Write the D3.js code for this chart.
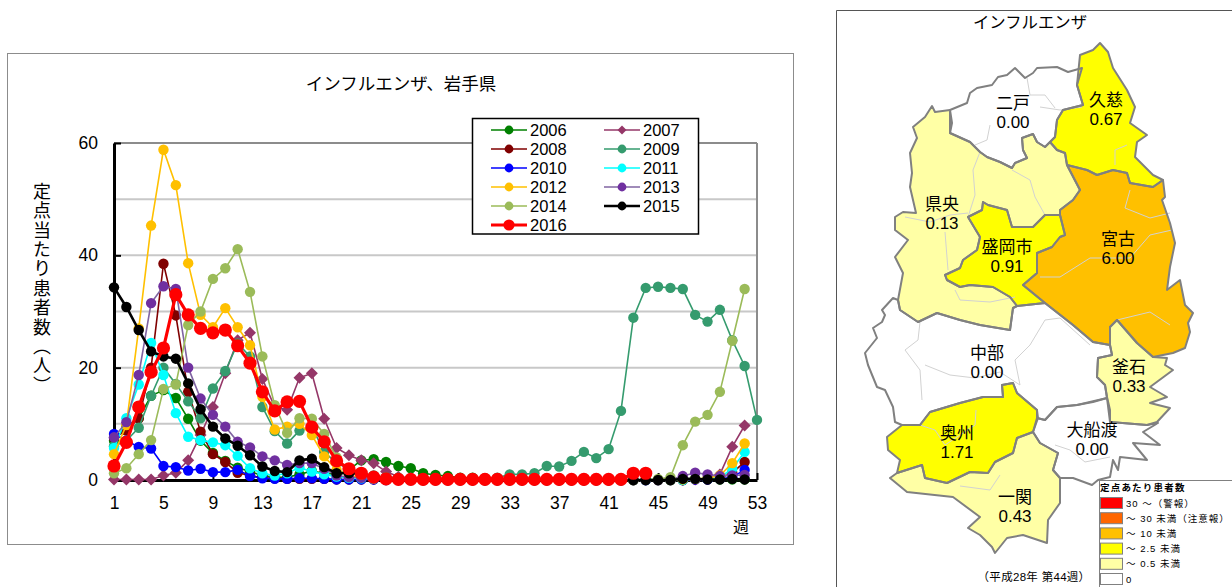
<!DOCTYPE html>
<html lang="ja"><head><meta charset="utf-8">
<script src="https://cdn.jsdelivr.net/npm/d3@7/dist/d3.min.js"></script>
<style>
html,body{margin:0;padding:0;background:#fff;overflow:hidden}
svg{display:block}
text{font-family:"Liberation Sans","Noto Sans CJK JP",sans-serif;fill:#000}
</style></head><body><svg id="c" width="1232" height="587"></svg>
<script>
const years=["2006","2007","2008","2009","2010","2011","2012","2013","2014","2015","2016"];
const s2006=[7,9.5,11,15,16,14.6,10.9,7,4.8,3.4, 2.2,1.5,.8,.5,.5,1,1.6,1.2,1,1.8, 3.5,3.7,3.2,2.5,2.1,1.2,.9,.7,.4,.4, .3,.2,.1,.1,.1,.1,0,0,0,0, 0,0,0,0,0,0,0,.2,.1,.1, .1,.1];
const s2007=[.1,.1,.1,.1,.8,1.3,3.5,8,13,19, 24.9,26.2,18,13,12.5,18.2,19,10.9,5.7,4.4, 3.5,3,1.5,.6,.3,.2,.1,.1,0,0, 0,0,0,0,0,0,0,0,0,0, 0,0,0,0,0,0,0,.1,.3,1, 5.9,9.7];
const s2008=[7.5,8.8,11,20,38.5,29.3,15.7,8.6,4.6,3.2, 1.3,.8,.4,.3,.2,.2,.2,.2,.1,.1, .1,.1,0,0,0,0,0,0,0,0, 0,0,0,0,0,0,0,0,0,0, 0,0,0,0,0,0,0,.1,.1,.3, 1.3,3.2];
const s2009=[6,7,9.3,15,20,17.1,14,11,16.3,19.4, 24.3,22,13,8.7,6.5,8.8,9.5,5,3,2, 1.3,.8,.5,.4,.3,.2,.2,.1,.1,.1, .2,.4,1,1,1.2,2.5,2.4,3.4,5,3.9, 5.5,12.3,28.9,34.2,34.4,34.2,34,29.4,28.2,30.3, 24.9,20.3,10.7];
const s2010=[8.2,7,5.9,5.6,2.5,2.3,1.7,2,1.4,1.4, 1.8,.7,.3,.2,.2,.3,.3,.2,.1,.1, .1,.1,0,0,0,0,0,0,0,0, 0,0,0,0,0,0,0,0,0,0, 0,0,0,0,0,0,0,.1,.1,.2, .5,1.8];
const s2011=[5.7,11,17,24.4,18.7,11.9,7.7,7.1,6.7,6.2, 4.3,2.1,1.2,.8,1.2,2.2,1.5,1,.6,.4, .3,.2,.1,.1,0,0,0,0,0,0, 0,0,0,0,0,0,0,0,0,0, 0,0,0,0,0,0,0,.2,.2,.4, 2,5];
const s2012=[4.6,9.8,27,45.3,58.8,52.5,38.6,29.4,27.2,30.6, 27.2,24,14.8,9,9.5,10,8,4.2,1.8,.8, .5,.3,.2,.1,.1,0,0,0,0,0, 0,0,0,0,0,0,0,0,0,0, 0,0,0,.1,0,0,.1,.2,.3,.8, 3,6.5];
const s2013=[7.6,10.3,18.7,31.5,34.5,34,20,14.5,11.6,9.5, 6.8,5.8,4.2,3.5,2.7,3,3,2,.8,.5, .4,.3,.2,.1,.1,0,0,0,0,0, 0,0,0,0,0,0,0,0,0,0, 0,0,0,0,0,.1,.7,1.3,1,.7, .8,.9];
const s2014=[1.2,2.1,4.6,7.1,16.2,17,27.6,30,35.8,37.7, 41.1,33.5,22,13.3,8.4,11,10.9,8.2,4,1.8, 1,.5,.3,.2,.1,0,0,0,0,0, 0,0,0,0,0,0,0,0,0,0, 0,0,0,.1,.2,.5,6.2,10.4,11.6,15.7, 24.8,34];
const s2015=[34.3,30.8,26.7,22.9,22,21.6,17.2,12.6,9.5,7.4, 6.1,4.4,2.4,1.6,1.4,3.5,3.8,2.3,1.2,1.2, 1.1,.5,.2,.1,.1,0,0,0,0,0, 0,0,0,0,0,0,0,0,0,0, 0,0,0,0,0,0,.2,.2,.1,.1, .2,.1];
const s2016=[2.5,6.7,13,19.2,23.5,33,29.4,27,26.2,26.7, 23.9,20.8,15.7,12.3,13.9,14,9.4,6.8,3.4,2, 1.2,.5,.2,.1,.1,.1,.1,.1,.1,.1, .1,.1,.1,.1,.1,.1,.1,.1,.1,.1, .1,.1,1.2,1.2];
const seriesValues=[s2006,s2007,s2008,s2009,s2010,s2011,s2012,s2013,s2014,s2015,s2016];
const lineColors=["#008000","#953768","#800000","#359B6E","#0000FF","#00FFFF","#FFC000","#8064A2","#9BBB59","#000000","#FF0000"];
const markColors=["#008000","#953768","#800000","#359B6E","#0000FF","#00FFFF","#FFC000","#7030A0","#9BBB59","#000000","#FF0000"];
const weekTicks=[1,5,9,13,17,21,25,29,33,37,41,45,49,53];
const valueTicks=[0,20,40,60];
const gridTicks=[10,20,30,40,50];

const regionNames=["二戸","久慈","県央","盛岡市","宮古","中部","釜石","奥州","大船渡","一関"];
const regionRates=["0.00","0.67","0.13","0.91","6.00","0.00","0.33","1.71","0.00","0.43"];
const ninohe=[[950,110],[967,103],[970,93],[977,88],[992,85],[998,77],[1007,75],[1015,68],[1025,78],[1033,73],[1037,68],[1057,67],[1068,72],[1082,68],[1077,85],[1083,105],[1063,110],[1057,120],[1055,137],[1050,142],[1045,147],[1037,142],[1033,134],[1022,138],[1023,150],[1027,158],[1015,163],[1012,168],[1000,162],[987,157],[980,152],[970,142],[950,133],[952,123]];
const kuji=[[1077,85],[1080,55],[1093,50],[1100,43],[1108,52],[1113,68],[1127,90],[1135,107],[1130,123],[1147,135],[1137,142],[1135,157],[1143,165],[1153,175],[1163,180],[1153,187],[1130,183],[1127,173],[1113,170],[1097,175],[1087,170],[1067,165],[1065,153],[1057,150],[1050,142],[1055,137],[1057,120],[1063,110],[1083,105]];
const kenoh=[[950,133],[970,142],[980,152],[987,157],[1000,162],[1012,168],[1015,163],[1027,158],[1023,150],[1022,138],[1033,134],[1037,142],[1045,147],[1050,142],[1057,150],[1065,153],[1067,165],[1080,190],[1073,200],[1060,210],[1060,215],[1045,215],[1033,227],[1012,227],[1007,210],[988,205],[983,202],[982,210],[968,217],[980,237],[977,250],[963,260],[960,268],[945,275],[947,280],[960,287],[970,285],[993,287],[1010,297],[1017,306],[1013,308],[1010,330],[980,325],[960,320],[937,313],[918,322],[900,310],[898,300],[903,273],[895,257],[908,240],[895,230],[895,217],[903,212],[916,213],[910,187],[912,173],[910,153],[917,138],[913,127],[925,117],[932,106],[935,112],[950,110]];
const morioka=[[968,217],[982,210],[983,202],[988,205],[1007,210],[1012,227],[1033,227],[1045,215],[1060,215],[1065,235],[1060,237],[1052,247],[1037,253],[1037,273],[1023,285],[1045,303],[1017,306],[1010,297],[993,287],[970,285],[960,287],[947,280],[945,275],[960,268],[963,260],[977,250],[980,237]];
const miyako=[[1067,165],[1087,170],[1097,175],[1113,170],[1127,173],[1130,183],[1153,187],[1163,180],[1165,197],[1162,200],[1170,223],[1175,243],[1170,267],[1167,290],[1180,280],[1185,305],[1193,313],[1188,323],[1190,332],[1185,348],[1173,353],[1153,357],[1137,343],[1117,320],[1110,327],[1110,345],[1093,342],[1073,325],[1045,303],[1023,285],[1037,273],[1037,253],[1052,247],[1060,237],[1065,235],[1060,215],[1060,210],[1073,200],[1080,190]];
const chubu=[[898,300],[893,298],[882,310],[885,315],[882,322],[873,328],[877,338],[865,353],[868,365],[877,387],[885,390],[893,407],[895,422],[902,425],[920,425],[930,412],[960,403],[983,397],[1003,397],[1002,385],[1013,383],[1017,393],[1037,410],[1037,418],[1045,420],[1057,407],[1077,405],[1107,398],[1105,385],[1097,377],[1098,358],[1112,355],[1110,345],[1093,342],[1073,325],[1045,303],[1017,306],[1013,308],[1010,330],[980,325],[960,320],[937,313],[918,322],[900,310]];
const kamaishi=[[1117,320],[1110,327],[1110,345],[1112,355],[1098,358],[1097,377],[1105,385],[1107,397],[1110,410],[1110,422],[1147,425],[1157,422],[1170,408],[1150,403],[1167,397],[1150,387],[1173,370],[1165,365],[1167,358],[1153,357],[1137,343]];
const oshu=[[887,437],[902,425],[920,425],[930,412],[960,403],[983,397],[1003,397],[1002,385],[1013,383],[1017,393],[1037,410],[1038,418],[1033,432],[1017,438],[1013,453],[995,462],[988,473],[970,472],[947,483],[925,478],[922,465],[897,473],[900,460],[888,450]];
const ofunato=[[1037,418],[1045,420],[1057,407],[1077,405],[1093,402],[1107,398],[1110,422],[1147,425],[1158,423],[1143,432],[1160,445],[1133,443],[1147,460],[1120,457],[1118,470],[1113,460],[1110,477],[1098,480],[1092,485],[1073,478],[1060,478],[1053,470],[1058,453],[1040,443],[1033,432]];
const ichinoseki=[[890,478],[897,473],[922,465],[925,478],[947,483],[970,472],[988,473],[995,462],[1013,453],[1017,438],[1033,432],[1040,443],[1058,453],[1053,470],[1060,478],[1060,503],[1048,520],[1047,543],[1023,535],[1007,538],[995,553],[992,547],[980,535],[968,528],[980,517],[953,497],[907,492]];
const regionRings=[ninohe,kuji,kenoh,morioka,miyako,chubu,kamaishi,oshu,ofunato,ichinoseki];
const regionFills=["#FFFFFF","#FFFF00","#FFFFA5","#FFFF00","#FFC000","#FFFFFF","#FFFFA5","#FFFF00","#FFFFFF","#FFFFA5"];
const labelX=[1013,1106,942,1007,1118,987,1129,957,1092,1015];
const labelY=[103,100,204,247,239,353,367,433,430,497];
const cityLines=[
[[1027,78],[1030,95],[1045,95],[1055,108]],[[990,125],[987,140],[975,145]],[[1040,107],[1060,110],[1082,107]],
[[980,152],[973,170],[975,195],[968,217]],[[1012,170],[1030,180],[1035,197],[1045,215]],
[[1127,145],[1115,150],[1115,165]],[[1130,190],[1125,208],[1150,218],[1170,213]],[[1040,277],[1060,277],[1090,258],[1130,258],[1150,235],[1172,230]],
[[905,217],[930,222],[950,215],[968,213]],[[945,232],[948,270]],[[955,290],[960,300],[990,302],[1015,297]],
[[920,322],[918,340],[905,350],[920,370],[922,400]],[[925,365],[950,375],[975,378],[1000,372],[1020,385]],[[1020,385],[1015,360],[1030,345],[1045,320],[1060,318],[1090,345]],
[[920,425],[935,430],[945,445],[975,425],[976,410]],[[960,486],[990,490],[1000,475]],[[1055,445],[1070,450],[1085,462],[1110,457]],[[1117,320],[1150,312],[1170,325]]
];
const legendTitle="定点あたり患者数";
const legendLabels=["30 ～（警報）","～ 30 未満（注意報）","～ 10 未満","～ 2.5 未満","～ 0.5 未満","0"];
const legendFills=["#FF0000","#FF6600","#FFC000","#FFFF00","#FFFFA5","#FFFFFF"];

const svg=d3.select("#c");
svg.append("rect").attr("x",7.5).attr("y",53.5).attr("width",786).attr("height",491).attr("fill","#fff").attr("stroke","#8c8c8c");
const x=d3.scaleLinear().domain([1,53]).range([114,757]);
const y=d3.scaleLinear().domain([0,60]).range([480,143]);
svg.append("g").selectAll("line").data(gridTicks).join("line")
 .attr("x1",114).attr("x2",757).attr("y1",d=>y(d)).attr("y2",d=>y(d)).attr("stroke","#c8c8c8").attr("stroke-width",2);
svg.append("line").attr("x1",114).attr("x2",757).attr("y1",y(60)).attr("y2",y(60)).attr("stroke","#8c8c8c").attr("stroke-width",2);
svg.append("line").attr("x1",757).attr("x2",757).attr("y1",y(60)).attr("y2",y(0)).attr("stroke","#8c8c8c").attr("stroke-width",2);
const gx=svg.append("g").attr("transform",`translate(0,${y(0)})`)
 .call(d3.axisBottom(x).tickValues(weekTicks).tickFormat(d3.format("d")).tickSizeInner(-7).tickSizeOuter(0).tickPadding(17));
const gy=svg.append("g").attr("transform",`translate(${x(1)},0)`)
 .call(d3.axisLeft(y).tickValues(valueTicks).tickSizeInner(-7).tickSizeOuter(0).tickPadding(16));
[gx,gy].forEach(g=>{g.select(".domain").attr("stroke","#000").attr("stroke-width",3);
 g.selectAll(".tick line").attr("stroke","#000").attr("stroke-width",2);
 g.selectAll("text").attr("font-size",17.5).attr("fill","#000").style("font-family",'"Liberation Sans",sans-serif');});
svg.append("text").attr("x",741).attr("y",533).attr("text-anchor","middle").attr("font-size",16).text("週");
svg.append("text").attr("x",401).attr("y",90).attr("text-anchor","middle").attr("font-size",17.5).text("インフルエンザ、岩手県");
svg.append("text").attr("x",40).attr("y",182).attr("font-size",18).attr("letter-spacing",1.4)
 .style("writing-mode","vertical-rl").style("dominant-baseline","central").text("定点当たり患者数（人）");

const line=d3.line().x((d,i)=>x(i+1)).y(d=>y(d));
const widths=i=>i===10?3.2:i===9?2.6:1.6;
const radius=i=>i===10?6.6:5.2;
seriesValues.forEach((vals,i)=>{
 const g=svg.append("g");
 g.append("path").attr("d",line(vals)).attr("fill","none").attr("stroke",lineColors[i]).attr("stroke-width",widths(i));
 if(years[i]==="2007"){
  g.selectAll("path.m").data(vals).join("path").attr("class","m").attr("d",d3.symbol().type(d3.symbolSquare).size(72)())
   .attr("transform",(d,k)=>`translate(${x(k+1)},${y(d)}) rotate(45)`).attr("fill",markColors[i]);
 } else {
  g.selectAll("circle").data(vals).join("circle").attr("cx",(d,k)=>x(k+1)).attr("cy",d=>y(d)).attr("r",radius(i)).attr("fill",markColors[i]);
 }
});

svg.append("rect").attr("x",472.5).attr("y",118.5).attr("width",226).attr("height",115.5).attr("fill","#fff").attr("stroke","#000").attr("stroke-width",1.5);
years.forEach((yr,i)=>{
 const col=i%2, row=Math.floor(i/2), cx=col?622:509, cy=130+row*19;
 const g=svg.append("g");
 g.append("line").attr("x1",cx-18).attr("x2",cx+18).attr("y1",cy).attr("y2",cy).attr("stroke",lineColors[i]).attr("stroke-width",widths(i));
 if(yr==="2007") g.append("path").attr("d",d3.symbol().type(d3.symbolSquare).size(40)()).attr("transform",`translate(${cx},${cy}) rotate(45)`).attr("fill",markColors[i]);
 else g.append("circle").attr("cx",cx).attr("cy",cy).attr("r",i===10?5.6:4.4).attr("fill",markColors[i]);
 g.append("text").attr("x",cx+21).attr("y",cy+6).attr("font-size",16.5).text(yr);
});

svg.append("path").attr("d","M1232 10.5H836.5V587").attr("fill","none").attr("stroke","#555");
svg.append("text").attr("x",1030).attr("y",28).attr("text-anchor","middle").attr("font-size",16.4).text("インフルエンザ");
const geo=d3.geoPath(d3.geoIdentity());
const drawOrder=[5,8,0,2,4,1,3,6,9,7];
svg.append("g").selectAll("path").data(drawOrder).join("path")
 .attr("d",k=>geo({type:"Polygon",coordinates:[regionRings[k].concat([regionRings[k][0]])]}))
 .attr("fill",k=>regionFills[k]).attr("stroke","none");
svg.append("g").selectAll("path").data(cityLines).join("path")
 .attr("d",c=>geo({type:"LineString",coordinates:c})).attr("fill","none").attr("stroke","#d2d2d2").attr("stroke-width",1);
svg.append("g").selectAll("path").data(drawOrder).join("path")
 .attr("d",k=>geo({type:"Polygon",coordinates:[regionRings[k].concat([regionRings[k][0]])]}))
 .attr("fill","none").attr("stroke","#808080").attr("stroke-width",2).attr("stroke-linejoin","round");
regionNames.forEach((n,i)=>{
 svg.append("text").attr("x",labelX[i]).attr("y",labelY[i]+6).attr("text-anchor","middle").attr("font-size",17).text(n);
 svg.append("text").attr("x",labelX[i]).attr("y",labelY[i]+25).attr("text-anchor","middle").attr("font-size",17).text(regionRates[i]);
});
svg.append("rect").attr("x",1099.5).attr("y",480.5).attr("width",140).attr("height",120).attr("fill","#fff").attr("stroke","#808080");
svg.append("text").attr("x",1100).attr("y",491).attr("font-size",9.5).attr("font-weight","bold").attr("letter-spacing",1.2).text(legendTitle);
legendLabels.forEach((t,i)=>{
 const cy=503+i*15.2;
 svg.append("rect").attr("x",1100.5).attr("y",cy-5.5).attr("width",22).attr("height",11).attr("fill",legendFills[i]).attr("stroke","#808080");
 svg.append("text").attr("x",1126).attr("y",cy+3.5).attr("font-size",9.5).attr("letter-spacing",1).attr("fill","#222").text(t);
});
svg.append("text").attr("x",1034).attr("y",581).attr("text-anchor","middle").attr("font-size",11.5).attr("letter-spacing",.3).text("（平成28年 第44週）");
</script></body></html>
